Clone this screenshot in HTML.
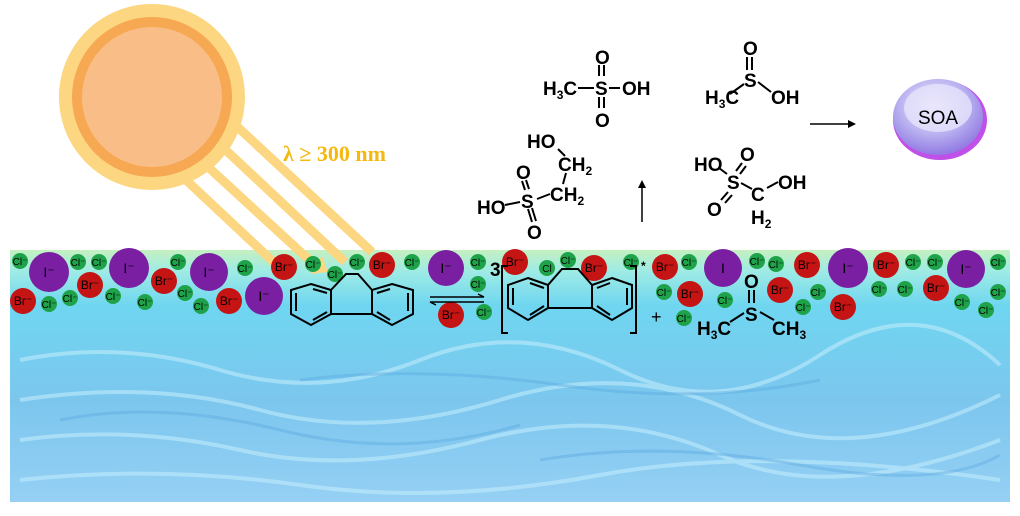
<!DOCTYPE html>
<html><head><meta charset="utf-8"><style>
html,body{margin:0;padding:0;background:#fff;}
svg{display:block;font-family:"Liberation Sans",Arial,sans-serif;}
.m{font-weight:bold;font-size:19px;fill:#000;}
.s{font-size:12px;}
</style></head><body>
<svg width="1020" height="516" viewBox="0 0 1020 516">
<defs>
<linearGradient id="w" x1="0" y1="0" x2="0" y2="1">
<stop offset="0" stop-color="#c4f0c0"/>
<stop offset="0.08" stop-color="#a0ece4"/>
<stop offset="0.22" stop-color="#6fd6f0"/>
<stop offset="0.6" stop-color="#7cc6ee"/>
<stop offset="1" stop-color="#96d0f4"/>
</linearGradient>
<radialGradient id="soa" cx="0.45" cy="0.35" r="0.7">
<stop offset="0" stop-color="#f4f0ff"/>
<stop offset="0.55" stop-color="#b8b0f0"/>
<stop offset="1" stop-color="#8a70e0"/>
</radialGradient>
</defs>
<rect x="10" y="250" width="1000" height="252" fill="url(#w)"/>
<g fill="none" stroke="#c0ecfc" stroke-width="4" opacity="0.6">
<path d="M20 360 Q120 340 220 370 T420 360 T620 370 T820 355 T1000 365"/>
<path d="M20 400 Q150 380 260 410 T500 400 T740 415 T1000 395"/>
<path d="M20 440 Q130 425 240 450 T480 440 T720 455 T1000 440"/>
<path d="M20 480 Q160 465 300 485 T600 475 T1000 480"/>
</g>
<g fill="none" stroke="#5aa8e0" stroke-width="3" opacity="0.4">
<path d="M60 420 Q160 400 280 430 T520 425"/>
<path d="M540 460 Q660 440 800 465 T1000 455"/>
<path d="M300 380 Q420 365 560 385 T820 380"/>
</g>
<!-- beams -->
<g stroke="#fcd680" stroke-width="9">
<line x1="170" y1="165" x2="282" y2="270"/>
<line x1="195" y1="155" x2="318" y2="268"/>
<line x1="215" y1="140" x2="345" y2="262"/>
<line x1="230" y1="120" x2="372" y2="252"/>
</g>
<polygon points="274,276 294,276 290,258" fill="#fcd680"/>
<polygon points="310,274 328,272 322,256" fill="#fcd680"/>
<!-- sun -->
<circle cx="152" cy="97" r="93" fill="#fcd680"/>
<circle cx="152" cy="97" r="80" fill="#f6a852"/>
<circle cx="152" cy="97" r="70" fill="#f9be88"/>
<text x="283" y="161" font-family="Liberation Serif,serif" font-weight="bold" font-size="22" fill="#f5b810">λ ≥ 300 nm</text>
<!-- ions -->
<g font-size="11" text-anchor="middle">
<g fill="#1fa34a">
<circle cx="20" cy="261" r="8"/><circle cx="78" cy="262" r="8"/><circle cx="99" cy="262" r="8"/><circle cx="178" cy="262" r="8"/><circle cx="245" cy="268" r="8"/><circle cx="313" cy="264" r="8"/><circle cx="335" cy="274" r="8"/><circle cx="357" cy="262" r="8"/><circle cx="412" cy="262" r="8"/><circle cx="478" cy="262" r="8"/><circle cx="49" cy="304" r="8"/><circle cx="70" cy="298" r="8"/><circle cx="113" cy="296" r="8"/><circle cx="145" cy="302" r="8"/><circle cx="185" cy="293" r="8"/><circle cx="201" cy="306" r="8"/><circle cx="478" cy="284" r="8"/><circle cx="484" cy="312" r="8"/>
<circle cx="547" cy="268" r="8"/><circle cx="568" cy="260" r="8"/><circle cx="631" cy="262" r="8"/><circle cx="689" cy="262" r="8"/><circle cx="757" cy="261" r="8"/><circle cx="776" cy="264" r="8"/><circle cx="913" cy="262" r="8"/><circle cx="935" cy="262" r="8"/><circle cx="998" cy="262" r="8"/><circle cx="664" cy="292" r="8"/><circle cx="725" cy="300" r="8"/><circle cx="818" cy="292" r="8"/><circle cx="803" cy="307" r="8"/><circle cx="879" cy="289" r="8"/><circle cx="905" cy="289" r="8"/><circle cx="998" cy="292" r="8"/><circle cx="962" cy="302" r="8"/><circle cx="986" cy="310" r="8"/><circle cx="684" cy="318" r="8"/>
</g>
<g fill="#c41414">
<circle cx="284" cy="267" r="13"/><circle cx="382" cy="265" r="13"/><circle cx="23" cy="301" r="13"/><circle cx="90" cy="285" r="13"/><circle cx="164" cy="281" r="13"/><circle cx="229" cy="301" r="13"/><circle cx="451" cy="315" r="13"/>
<circle cx="515" cy="262" r="13"/><circle cx="594" cy="268" r="13"/><circle cx="665" cy="267" r="13"/><circle cx="807" cy="265" r="13"/><circle cx="886" cy="265" r="13"/><circle cx="690" cy="294" r="13"/><circle cx="780" cy="290" r="13"/><circle cx="843" cy="307" r="13"/><circle cx="936" cy="288" r="13"/>
</g>
<g fill="#7b1fa2">
<circle cx="49" cy="272" r="20"/><circle cx="129" cy="268" r="20"/><circle cx="209" cy="272" r="19"/><circle cx="446" cy="268" r="18"/><circle cx="264" cy="296" r="19"/><circle cx="723" cy="268" r="19"/><circle cx="848" cy="268" r="20"/><circle cx="966" cy="269" r="19"/>
</g>
<g fill="#000" font-size="10">
<text x="20" y="265">Cl⁻</text><text x="78" y="266">Cl⁻</text><text x="99" y="266">Cl⁻</text><text x="178" y="266">Cl⁻</text><text x="245" y="272">Cl⁻</text><text x="313" y="268">Cl⁻</text><text x="335" y="278">Cl⁻</text><text x="357" y="266">Cl⁻</text><text x="412" y="266">Cl⁻</text><text x="478" y="266">Cl⁻</text><text x="49" y="308">Cl⁻</text><text x="70" y="302">Cl⁻</text><text x="113" y="300">Cl⁻</text><text x="145" y="306">Cl⁻</text><text x="185" y="297">Cl⁻</text><text x="201" y="310">Cl⁻</text><text x="478" y="288">Cl⁻</text><text x="484" y="316">Cl⁻</text>
<text x="547" y="272">Cl</text><text x="568" y="264">Cl⁻</text><text x="631" y="266">Cl⁻</text><text x="689" y="266">Cl⁻</text><text x="757" y="265">Cl⁻</text><text x="776" y="268">Cl⁻</text><text x="913" y="266">Cl⁻</text><text x="935" y="266">Cl⁻</text><text x="998" y="266">Cl⁻</text><text x="664" y="296">Cl⁻</text><text x="725" y="304">Cl⁻</text><text x="818" y="296">Cl⁻</text><text x="803" y="311">Cl⁻</text><text x="879" y="293">Cl⁻</text><text x="905" y="293">Cl⁻</text><text x="998" y="296">Cl⁻</text><text x="962" y="306">Cl⁻</text><text x="986" y="314">Cl⁻</text><text x="684" y="322">Cl⁻</text>
</g>
<g fill="#000" font-size="12">
<text x="284" y="271">Br⁻</text><text x="382" y="269">Br⁻</text><text x="23" y="305">Br⁻</text><text x="90" y="289">Br⁻</text><text x="164" y="285">Br⁻</text><text x="229" y="305">Br⁻</text><text x="451" y="319">Br⁻</text>
<text x="515" y="266">Br⁻</text><text x="594" y="272">Br⁻</text><text x="665" y="271">Br⁻</text><text x="807" y="269">Br⁻</text><text x="886" y="269">Br⁻</text><text x="690" y="298">Br⁻</text><text x="780" y="294">Br⁻</text><text x="843" y="311">Br⁻</text><text x="936" y="292">Br⁻</text>
</g>
<g fill="#000" font-size="14">
<text x="49" y="277">I⁻</text><text x="129" y="273">I⁻</text><text x="209" y="277">I⁻</text><text x="446" y="273">I⁻</text><text x="264" y="301">I⁻</text><text x="723" y="273">I</text><text x="848" y="273">I⁻</text><text x="966" y="274">I⁻</text>
</g>
</g>
<!-- fluorene 1 -->
<g fill="none" stroke="#000" stroke-width="2">
<polygon points="311,284 331,290 331,314 311,325 291,314 291,290"/>
<polygon points="392,284 413,290 413,314 392,325 372,314 372,290"/>
<path d="M331,290 L346,274 L358,274 L372,290 M331,314 L372,314"/>
<path d="M296,293 L296,311 M313,289 L327,293 M313,320 L327,312 M377,293 L390,289 M408,293 L408,311 M377,312 L390,320"/>
</g>
<g stroke="#000" stroke-width="1.5">
<line x1="430" y1="297" x2="484" y2="297"/><polyline points="478,294 484,297" fill="none"/>
<line x1="430" y1="302" x2="484" y2="302"/><polyline points="436,305 430,302" fill="none"/>
</g>
<g fill="none" stroke="#000" stroke-width="2">
<polygon points="528,278 548,285 548,308 528,320 508,308 508,285"/>
<polygon points="612,278 632,285 632,308 612,320 592,308 592,285"/>
<path d="M548,285 L562,269 L578,269 L592,285 M548,308 L592,308"/>
<path d="M513,288 L513,305 M530,283 L544,288 M530,315 L544,306 M597,288 L610,283 M627,288 L627,305 M597,306 L610,315"/>
<path d="M508,266 L502,266 L502,333 L508,333 M630,266 L636,266 L636,333 L630,333"/>
</g>
<text x="490" y="276" class="m" font-size="16">3</text>
<text x="641" y="270" font-size="12" font-weight="bold">*</text>
<text x="651" y="323" font-size="18">+</text>
<!-- DMSO -->
<text x="697" y="335" class="m">H<tspan class="s" dy="4">3</tspan><tspan dy="-4">C</tspan></text>
<text x="745" y="321" class="m">S</text>
<text x="744" y="288" class="m">O</text>
<text x="772" y="335" class="m">CH<tspan class="s" dy="4">3</tspan></text>
<g stroke="#000" stroke-width="2"><line x1="730" y1="322" x2="744" y2="313"/><line x1="760" y1="312" x2="774" y2="320"/><line x1="749" y1="290" x2="749" y2="303"/><line x1="754" y1="290" x2="754" y2="303"/></g>
<line x1="642" y1="222" x2="642" y2="186" stroke="#000" stroke-width="1.5"/><polygon points="638,188 646,188 642,180" fill="#000"/>
<!-- MSA -->
<text x="543" y="95" class="m">H<tspan class="s" dy="4">3</tspan><tspan dy="-4">C</tspan></text>
<text x="595" y="95" class="m">S</text>
<text x="595" y="64" class="m">O</text>
<text x="595" y="127" class="m">O</text>
<text x="622" y="95" class="m">OH</text>
<g stroke="#000" stroke-width="2"><line x1="578" y1="88" x2="594" y2="88"/><line x1="609" y1="88" x2="620" y2="88"/><line x1="599" y1="65" x2="599" y2="76"/><line x1="604" y1="65" x2="604" y2="76"/><line x1="599" y1="97" x2="599" y2="108"/><line x1="604" y1="97" x2="604" y2="108"/></g>
<!-- MSIA -->
<text x="705" y="104" class="m">H<tspan class="s" dy="4">3</tspan><tspan dy="-4">C</tspan></text>
<text x="744" y="87" class="m">S</text>
<text x="743" y="55" class="m">O</text>
<text x="771" y="104" class="m">OH</text>
<g stroke="#000" stroke-width="2"><line x1="730" y1="94" x2="744" y2="84"/><line x1="758" y1="82" x2="771" y2="92"/><line x1="747" y1="57" x2="747" y2="70"/><line x1="752" y1="57" x2="752" y2="70"/></g>
<!-- isethionic -->
<text x="527" y="148" class="m">HO</text>
<text x="558" y="171" class="m">CH<tspan class="s" dy="4">2</tspan></text>
<text x="550" y="201" class="m">CH<tspan class="s" dy="4">2</tspan></text>
<text x="521" y="208" class="m">S</text>
<text x="516" y="179" class="m">O</text>
<text x="527" y="239" class="m">O</text>
<text x="477" y="214" class="m">HO</text>
<g stroke="#000" stroke-width="2"><line x1="558" y1="149" x2="565" y2="156"/><line x1="566" y1="173" x2="563" y2="184"/><line x1="537" y1="199" x2="550" y2="194"/><line x1="505" y1="205" x2="520" y2="202"/><line x1="522" y1="181" x2="525" y2="190"/><line x1="526" y1="180" x2="529" y2="189"/><line x1="528" y1="209" x2="532" y2="222"/><line x1="532" y1="208" x2="536" y2="221"/></g>
<!-- HMSA -->
<text x="694" y="171" class="m">HO</text>
<text x="727" y="189" class="m">S</text>
<text x="740" y="161" class="m">O</text>
<text x="707" y="216" class="m">O</text>
<text x="778" y="189" class="m">OH</text>
<text x="751" y="201" class="m">C</text>
<text x="751" y="224" class="m">H<tspan class="s" dy="4">2</tspan></text>
<g stroke="#000" stroke-width="2"><line x1="719" y1="168" x2="727" y2="174"/><line x1="741" y1="183" x2="752" y2="189"/><line x1="767" y1="188" x2="778" y2="182"/><line x1="736" y1="171" x2="742" y2="163"/><line x1="740" y1="174" x2="746" y2="166"/><line x1="721" y1="200" x2="728" y2="192"/><line x1="725" y1="203" x2="732" y2="195"/></g>
<line x1="810" y1="124" x2="850" y2="124" stroke="#000" stroke-width="1.5"/><polygon points="848,120 856,124 848,128" fill="#000"/>
<!-- SOA -->
<ellipse cx="940" cy="120" rx="47" ry="40" fill="#c050e8"/>
<ellipse cx="938" cy="117" rx="45" ry="38" fill="url(#soa)"/>
<ellipse cx="938" cy="108" rx="34" ry="24" fill="#e6e4fb" opacity="0.8"/>
<text x="938" y="124" text-anchor="middle" font-size="19" fill="#000">SOA</text>
</svg>
</body></html>
